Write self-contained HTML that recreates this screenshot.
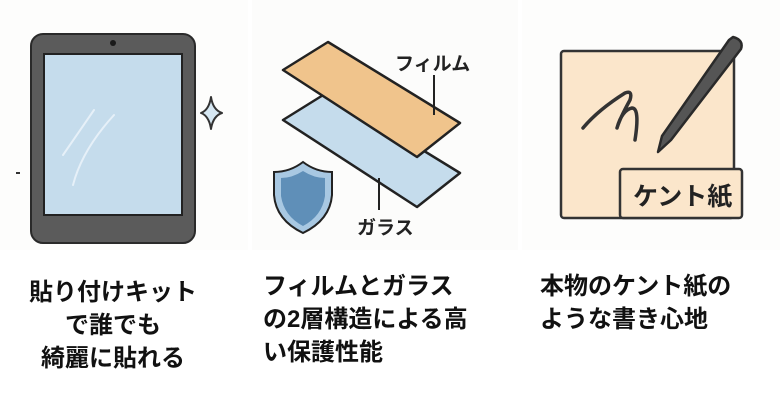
<!DOCTYPE html>
<html><head><meta charset="utf-8"><style>
body{margin:0;width:780px;height:410px;background:#fff;overflow:hidden;position:relative;font-family:"Liberation Sans","Noto Sans CJK JP",sans-serif}
.t{position:absolute;font-weight:bold;font-size:24px;line-height:33px;color:#111;white-space:nowrap}
</style></head><body>
<svg width="780" height="410" style="position:absolute;left:0;top:0">
<rect x="0" y="0" width="248" height="250" fill="#fdfdfc"/>
<rect x="252" y="0" width="266" height="250" fill="#fcfcfb"/>
<rect x="522" y="0" width="258" height="250" fill="#fdfdfc"/>
<line x1="16" y1="173" x2="20" y2="173" stroke="#333" stroke-width="2"/>
<rect x="31" y="34" width="164" height="209" rx="12" fill="#5b5b5b" stroke="#2a2a2a" stroke-width="2"/>
<rect x="44" y="54" width="138" height="161" fill="#c5dcec" stroke="#222" stroke-width="2"/>
<circle cx="113" cy="43" r="3" fill="#1a1a1a"/>
<path d="M94 110 L63 155 M114 115 Q82 150 73 185" stroke="#e6f0f8" stroke-width="2" fill="none" stroke-linecap="round"/>
<path d="M211 97 Q213 110 222 113 Q213 116 211 129 Q209 116 201 113 Q209 110 211 97Z" fill="#d6e7f2" stroke="#333" stroke-width="2" stroke-linejoin="round"/>
<path d="M283 120 L328 92 L460 173 L417 207 Z" fill="#c5dcec" stroke="#222" stroke-width="2.5" stroke-linejoin="round"/>
<path d="M283 70 L328 42 L460 123 L417 157 Z" fill="#f0c48c" stroke="#222" stroke-width="2.5" stroke-linejoin="round"/>
<line x1="434" y1="75" x2="434" y2="115" stroke="#222" stroke-width="2"/>
<line x1="379" y1="178" x2="379" y2="210" stroke="#222" stroke-width="2"/>
<path d="M303 162 Q290 172 274 172 L274 195 Q276 220 303 233 Q330 220 332 195 L332 172 Q316 172 303 162Z" fill="#a8c8e2" stroke="#222" stroke-width="2"/>
<path d="M303 171 Q292 178 281 178 L281 196 Q284 216 303 226 Q322 216 325 196 L325 178 Q314 178 303 171Z" fill="#5f8fb8"/>
<text x="395" y="70" font-size="19" font-weight="bold" fill="#222" font-family="Liberation Sans,Noto Sans CJK JP,sans-serif">フィルム</text>
<text x="357" y="234" font-size="19" font-weight="bold" fill="#222" font-family="Liberation Sans,Noto Sans CJK JP,sans-serif">ガラス</text>
<rect x="561" y="51" width="173" height="167" rx="3" fill="#fbe6cb" stroke="#333" stroke-width="2.5"/>
<path d="M583 128 Q598 110 625 93 Q633 90 630 100 Q620 118 617 128 Q622 110 632 108 Q640 108 635 140" fill="none" stroke="#333" stroke-width="3.5" stroke-linecap="round" stroke-linejoin="round"/>
<path d="M733 37 Q744 40 741 49 L671 140 L658 152 L662 136 L729 40Z" fill="#555" stroke="#2a2a2a" stroke-width="2.5" stroke-linejoin="round"/>
<rect x="620" y="169" width="122" height="49" rx="3" fill="#fbe6cb" stroke="#333" stroke-width="2.5"/>
<text x="633" y="205" font-size="25" font-weight="bold" fill="#222" font-family="Liberation Sans,Noto Sans CJK JP,sans-serif">ケント紙</text>
</svg>
<div class="t" style="left:10px;top:276px;width:206px;text-align:center">貼り付けキット<br>で誰でも<br>綺麗に貼れる</div>
<div class="t" style="left:263px;top:270px">フィルムとガラス<br>の2層構造による高<br>い保護性能</div>
<div class="t" style="left:540px;top:270px">本物のケント紙の<br>ような書き心地</div>
</body></html>
